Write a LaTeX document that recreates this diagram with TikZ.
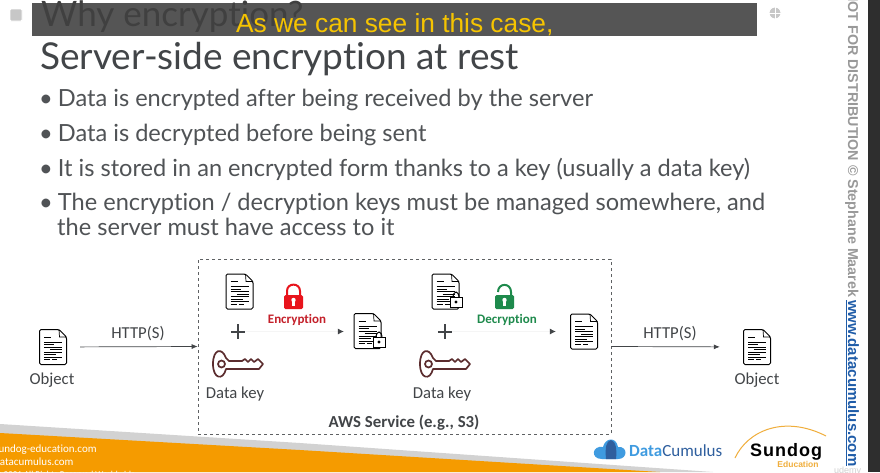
\documentclass[tikz,border=0pt]{standalone}
\usepackage{fontspec}
\usetikzlibrary{arrows.meta}
\setmainfont[Ligatures=NoCommon]{Carlito}
\newfontfamily\slidefont[Ligatures=NoCommon]{Lato}
\newfontfamily\capfont{Liberation Sans}
\newfontfamily\wmfont{Liberation Sans}
\definecolor{slidegray}{HTML}{424548}
\definecolor{bulletgray}{HTML}{505356}
\definecolor{bargray}{HTML}{555555}
\definecolor{capyellow}{HTML}{F6C400}
\definecolor{keybrown}{HTML}{5B2C2E}
\definecolor{lockred}{HTML}{E8141C}
\definecolor{lockgreen}{HTML}{1E8A4C}
\definecolor{textred}{HTML}{C4202A}
\definecolor{footorange}{HTML}{F59B00}
\definecolor{footgray}{HTML}{D2D2D2}
\definecolor{dcblue}{HTML}{3F9BE0}
\definecolor{dcnavy}{HTML}{2F5F9E}
\definecolor{sundogor}{HTML}{F0AE3C}
\definecolor{linkblue}{HTML}{1F5CA8}
\tikzset{
  iconbox/.style={inner sep=0pt,minimum height=30pt},
  lbl/.style={font=\fontsize{16.7}{16.7}\selectfont,text=slidegray,inner sep=0pt},
  bullet/.style={font=\slidefont\fontsize{23.6}{23.6}\selectfont,text=bulletgray,anchor=base west,inner sep=0pt},
  arr/.style={draw=slidegray,line width=0.7pt,-{Latex[length=6pt,width=5pt,fill=slidegray]}},
  faintarr/.style={draw=black!4,line width=0.7pt,-{Latex[length=6pt,width=6pt,color=slidegray]}},
  docicon/.pic={
    \draw[black,line width=1pt,line join=round,rounded corners=1.5pt,fill=white] (-13.5,-17.5) -- (6,-17.5) -- (13.5,-10) -- (13.5,17.5) -- (-13.5,17.5) -- cycle;
    \draw[black,line width=0.7pt] (6,-17.5) -- (6.5,-10) -- (13.5,-10);
    \draw[black,line width=1pt] (-9,-10) -- (-2,-10);
    \foreach \yy in {-5,0,5,10}
      \draw[black,line width=1pt] (-9,\yy) -- (9,\yy);
    \foreach \yy/\xa/\xb in {-2.5/-9/1,2.5/-3/9,7.5/-9/3,12.5/-9/-3,12.5/-1/4}
      \draw[black,line width=0.9pt] (\xa,\yy) -- (\xb,\yy);
  },
  minilock/.pic={
    \draw[black,line width=1pt] (-3,-2) .. controls (-3,-10) and (3,-10) .. (3,-2);
    \draw[black,line width=1pt,fill=white] (-6,-3) rectangle (6,7);
    \fill[black] (0,2) circle (1.6);
  },
  keyicon/.pic={
    \draw[keybrown,line width=1.7pt,line join=round,fill=white] (-12,-6) .. controls (-16,-17) and (-25,-15) .. (-25,0) .. controls (-25,15) and (-15,17) .. (-12,5) -- (21,5) -- (25,0) -- (20,-5) -- (16,-2) -- (13,-5) -- (10,-2) -- (7,-5) -- (4,-3) -- (-9,-3) -- cycle;
    \draw[keybrown,line width=1.7pt] (-16.5,0) circle (3.5);
  },
  lockicon/.pic={
    \draw[#1,line width=2pt] (-6.5,-2) -- (-6.5,-6) .. controls (-6.5,-14.5) and (6.5,-14.5) .. (6.5,-6) -- (6.5,-2);
    \fill[#1,rounded corners=1.5pt] (-9.5,-2) rectangle (9.5,12);
    \fill[white] (0,3) circle (2.2);
    \fill[white] (-1.2,3) rectangle (1.2,8.5);
  },
  openlock/.pic={
    \draw[#1,line width=2pt] (-6.5,-5) .. controls (-6.5,-14.5) and (6.5,-14.5) .. (6.5,-5) -- (6.5,-2);
    \fill[#1,rounded corners=1.5pt] (-9.5,-2) rectangle (9.5,12);
    \fill[white] (0,3) circle (2.2);
    \fill[white] (-1.2,3) rectangle (1.2,8.5);
  },
  viewbtn/.style={draw=white,line width=0.9pt,fill=black!22,inner sep=0pt}
}
\begin{document}
\begin{tikzpicture}[x=1pt,y=-1pt]
  \useasboundingbox (0,0) rectangle (880,472);
  \fill[white] (0,0) rectangle (880,472);

  % footer bands
  \fill[footgray] (0,424) -- (300,443) -- (713,472) -- (0,472) -- cycle;
  \fill[footorange] (0,433) -- (300,450) -- (660,472) -- (0,472) -- cycle;
  \node[anchor=base west,inner sep=0pt,text=white,font=\fontsize{11}{11}\selectfont] (foota) at (-6,452) {sundog-education.com};
  \node[anchor=base west,inner sep=0pt,text=white,font=\fontsize{11}{11}\selectfont] (footb) at (-6,465.5) {datacumulus.com};
  \node[anchor=base west,inner sep=0pt,text=white,font=\fontsize{9}{9}\selectfont] (footc) at (-6,477) {© 2021 All Rights Reserved Worldwide};

  % titles and caption bar
  \fill[bargray] (32,3) rectangle (757,36);
  \node[anchor=base west,inner sep=0pt,text=black!75,font=\slidefont\fontsize{35}{35}\selectfont] (oldtitle) at (41,26) {Why encryption?};
  \node[anchor=base west,inner sep=0pt,text=capyellow,font=\capfont\fontsize{26.3}{26.3}\selectfont] (caption) at (236,32) {As we can see in this case,};
  \node[anchor=base west,inner sep=0pt,text=slidegray,font=\slidefont\fontsize{37}{37}\selectfont] (title) at (40,69) {Server-side encryption at rest};

  \node[bullet] (ba) at (39,106) {•\hspace{5pt}Data is encrypted after being received by the server};
  \node[bullet] (bb) at (39,141) {•\hspace{5pt}Data is decrypted before being sent};
  \node[bullet] (bc) at (39,176) {•\hspace{5pt}It is stored in an encrypted form thanks to a key (usually a data key)};
  \node[bullet] (bd) at (39,210) {•\hspace{5pt}The encryption / decryption keys must be managed somewhere, and};
  \node[bullet] (be) at (57,235) {the server must have access to it};

  % service box
  \node[draw=slidegray!85,dashed,line width=0.7pt,inner sep=0pt,minimum width=413pt,minimum height=175pt] (svc) at (404.5,346.5) {};
  \node[font=\bfseries\fontsize{16.8}{16.8}\selectfont,text=slidegray,inner sep=0pt] (svclbl) at (404,423) {AWS Service (e.g., S3)};

  % objects outside
  \node[iconbox,minimum width=54pt] (objin) at (53,347) {};
  \pic at (objin) {docicon};
  \node[lbl] (objinlbl) at (52,380) {Object};
  \node[iconbox,minimum width=74pt] (objout) at (757,347) {};
  \pic at (objout) {docicon};
  \node[lbl] (objoutlbl) at (757,380) {Object};

  \draw[arr] (objin) -- (svc.west);
  \draw[arr] (svc.east) -- (objout);
  \node[lbl] (httpa) at (138,334) {HTTP(S)};
  \node[lbl] (httpb) at (670,334) {HTTP(S)};

  % encryption side
  \node[iconbox,minimum width=28pt] (doca) at (239.5,291.5) {};
  \pic at (doca) {docicon};
  \node[inner sep=0pt,minimum size=14pt] (plusa) at (238,331.5) {};
  \draw[slidegray,line width=2pt] (plusa.west) -- (plusa.east) (plusa.north) -- (plusa.south);
  \node[iconbox,minimum width=50pt] (keya) at (238,364) {};
  \pic at (keya) {keyicon};
  \node[lbl] (keyalbl) at (235,394) {Data key};
  \node[iconbox,minimum width=20pt] (locka) at (293.5,297) {};
  \pic at (locka) {lockicon=lockred};
  \node[font=\bfseries\fontsize{13}{13}\selectfont,text=textred,inner sep=0pt] (enclbl) at (297,320) {Encryption};
  \node[iconbox,minimum width=52pt] (lockdoc) at (370,331.5) {};
  \pic at (367.5,331) {docicon};
  \pic at (379,340) {minilock};
  \draw[faintarr] (plusa) -- (lockdoc);

  % decryption side
  \node[iconbox,minimum width=28pt] (lockdocb) at (445.5,291.5) {};
  \pic at (445.5,291.5) {docicon};
  \pic at (456,300) {minilock};
  \node[inner sep=0pt,minimum size=14pt] (plusb) at (445,331.5) {};
  \draw[slidegray,line width=2pt] (plusb.west) -- (plusb.east) (plusb.north) -- (plusb.south);
  \node[iconbox,minimum width=50pt] (keyb) at (445,364) {};
  \pic at (keyb) {keyicon};
  \node[lbl] (keyblbl) at (442,394) {Data key};
  \node[iconbox,minimum width=20pt] (lockb) at (504.5,297) {};
  \pic at (lockb) {openlock=lockgreen};
  \node[font=\bfseries\fontsize{13}{13}\selectfont,text=lockgreen,inner sep=0pt] (declbl) at (507,320) {Decryption};
  \node[iconbox,minimum width=56pt] (docb) at (584,331.5) {};
  \pic at (docb) {docicon};
  \draw[faintarr] (plusb) -- (docb);

  % logos
  \fill[dcblue] (602,459) .. controls (590,459) and (592,445) .. (603,447) .. controls (605,438) and (616,436) .. (618,447) .. controls (628,446) and (628,459) .. (618,459) -- cycle;
  \fill[dcnavy] (606,459) .. controls (605,448) and (606,441) .. (611,440) .. controls (616,441) and (617,450) .. (616,459) -- cycle;
  \node[anchor=base west,inner sep=0pt,font=\fontsize{17}{17}\selectfont] (dclogo) at (629,456.5) {\textcolor{dcblue}{\bfseries Data}\textcolor{dcnavy}{Cumulus}};
  \draw[sundogor,line width=1pt] (735,458) .. controls (748,430) and (785,415) .. (826,436);
  \node[anchor=base west,inner sep=0pt,font=\capfont\bfseries\fontsize{18}{18}\selectfont] (sundog) at (750,456) {S\hspace{1pt}u\hspace{1pt}n\hspace{1pt}d\hspace{1pt}o\hspace{1pt}g};
  \node[inner sep=0pt,text=sundogor,font=\capfont\bfseries\fontsize{8.5}{8.5}\selectfont] (edu) at (798,464) {Education};
  \node[anchor=base west,inner sep=0pt,text=black!18,font=\capfont\fontsize{9}{9}\selectfont] (udemy) at (834,473) {udemy};

  % side watermark and dark strip
  \node[rotate=-90,anchor=base west,inner sep=0pt,text=black!40,font=\wmfont\bfseries\fontsize{14.3}{14.3}\selectfont] (wmark) at (848,-9) {NOT FOR DISTRIBUTION © Stephane Maarek};
  \node[rotate=-90,anchor=base west,inner sep=0pt,text=linkblue,font=\wmfont\bfseries\fontsize{15}{15}\selectfont] (wlink) at (848,300) {\underline{www.datacumulus.com}};
  \fill[black!82] (868,0) rectangle (880,472);

  % player buttons
  \node[viewbtn,minimum size=12pt,rounded corners=1pt] (btnl) at (16,15) {};
  \node[viewbtn,circle,minimum size=12pt] (btnr) at (775,13) {};
  \draw[white,line width=0.7pt] (btnr.west) -- (btnr.east) (btnr.north) -- (btnr.south);
\end{tikzpicture}
\end{document}
